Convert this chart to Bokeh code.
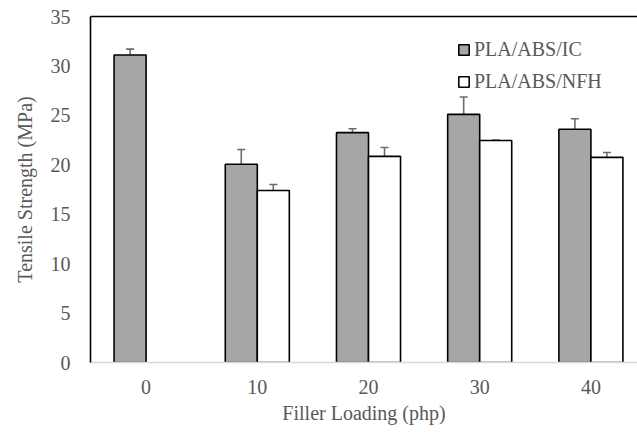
import numpy as np
from bokeh.plotting import figure
from bokeh.models import (ColumnDataSource, Whisker, Legend, LegendItem, LinearAxis,
                          FixedTicker, Range1d)
from bokeh.transform import dodge
from bokeh.embed import file_html
from bokeh.resources import INLINE

categories = ["0", "10", "20", "30", "40"]
ic_values = [31.1, 20.05, 23.25, 25.1, 23.6]
ic_errors = [0.6, 1.5, 0.4, 1.75, 1.05]
nfh_values = [np.nan, 17.4, 20.85, 22.45, 20.75]
nfh_errors = [np.nan, 0.6, 0.9, 0.05, 0.5]

series_names = ["PLA/ABS/IC", "PLA/ABS/NFH"]
x_label = "Filler Loading (php)"
y_label = "Tensile Strength (MPa)"

FONT = "Liberation Serif"
TXT = "#595959"
BW = 0.288

idx = np.arange(len(categories))
ic_src = ColumnDataSource(dict(
    x=idx, top=ic_values,
    upper=[v + e for v, e in zip(ic_values, ic_errors)],
    lower=[v - e for v, e in zip(ic_values, ic_errors)],
))
nfh_mask = [not np.isnan(v) for v in nfh_values]
nfh_src = ColumnDataSource(dict(
    x=idx[nfh_mask], top=[v for v, m in zip(nfh_values, nfh_mask) if m],
    upper=[v + e for v, e, m in zip(nfh_values, nfh_errors, nfh_mask) if m],
    lower=[v - e for v, e, m in zip(nfh_values, nfh_errors, nfh_mask) if m],
))

W, H = 637, 432
left, top, bottom = 90, 16, 70
frame_w = W - left
unit = 111.2
p = figure(width=W, height=H, output_backend="svg", toolbar_location=None,
           x_range=Range1d(-0.5, -0.5 + frame_w / unit), y_range=Range1d(0, 35),
           min_border_left=left, min_border_right=0, min_border_top=top,
           min_border_bottom=bottom, outline_line_color=None,
           background_fill_color="white", border_fill_color="white")
p.grid.visible = False

r_ic = p.vbar(x=dodge("x", -BW / 2, range=p.x_range), top="top", width=BW, bottom=0,
              source=ic_src, fill_color="#a6a6a6", line_color="black", line_width=1.6)
r_nfh = p.vbar(x=dodge("x", BW / 2, range=p.x_range), top="top", width=BW, bottom=0,
               source=nfh_src, fill_color="white", line_color="black", line_width=1.6)

for src, off in ((ic_src, -BW / 2), (nfh_src, BW / 2)):
    w = Whisker(source=src, base=dodge("x", off, range=p.x_range), upper="upper", lower="lower",
                line_color="#6b6b6b", line_width=1.6)
    w.upper_head.size = 8
    w.lower_head.size = 8
    w.upper_head.line_color = "#6b6b6b"
    w.lower_head.line_color = "#6b6b6b"
    w.upper_head.line_width = 1.6
    w.lower_head.line_width = 1.6
    p.add_layout(w)

# x axis
xa = p.xaxis[0]
xa.ticker = FixedTicker(ticks=list(idx))
xa.major_label_overrides = {int(i): c for i, c in zip(idx, categories)}
xa.axis_line_color = "#d9d9d9"
xa.axis_line_width = 1.5
xa.major_tick_line_color = None
xa.minor_tick_line_color = None
xa.major_label_standoff = 11
xa.major_label_text_font = FONT
xa.major_label_text_font_size = "20px"
xa.major_label_text_color = TXT
xa.axis_label = x_label
xa.axis_label_text_font = FONT
xa.axis_label_text_font_size = "20px"
xa.axis_label_text_font_style = "normal"
xa.axis_label_text_color = TXT
xa.axis_label_standoff = 5

ya = p.yaxis[0]
ya.ticker = FixedTicker(ticks=[0, 5, 10, 15, 20, 25, 30, 35])
ya.axis_line_color = "black"
ya.axis_line_width = 1.6
ya.major_tick_line_color = None
ya.minor_tick_line_color = None
ya.major_label_standoff = 14
ya.major_label_text_font = FONT
ya.major_label_text_font_size = "20px"
ya.major_label_text_color = TXT
ya.axis_label = y_label
ya.axis_label_text_font = FONT
ya.axis_label_text_font_size = "20px"
ya.axis_label_text_font_style = "normal"
ya.axis_label_text_color = TXT
ya.axis_label_standoff = 12

top_axis = LinearAxis(axis_line_color="black", axis_line_width=1.6,
                      major_tick_line_color=None, minor_tick_line_color=None,
                      major_label_text_font_size="0px", major_label_standoff=0)
top_axis.ticker = FixedTicker(ticks=[])
p.add_layout(top_axis, "above")

legend = Legend(items=[LegendItem(label=series_names[0], renderers=[r_ic]),
                       LegendItem(label=series_names[1], renderers=[r_nfh])],
                location=(367, 269), orientation="vertical",
                background_fill_alpha=0, border_line_color=None,
                label_text_font=FONT, label_text_font_size="20px", label_text_color=TXT,
                glyph_width=13, glyph_height=13, label_height=20, spacing=9,
                padding=0, margin=0, label_standoff=4)
p.add_layout(legend)

open("out.html", "w").write(file_html(p, INLINE))
